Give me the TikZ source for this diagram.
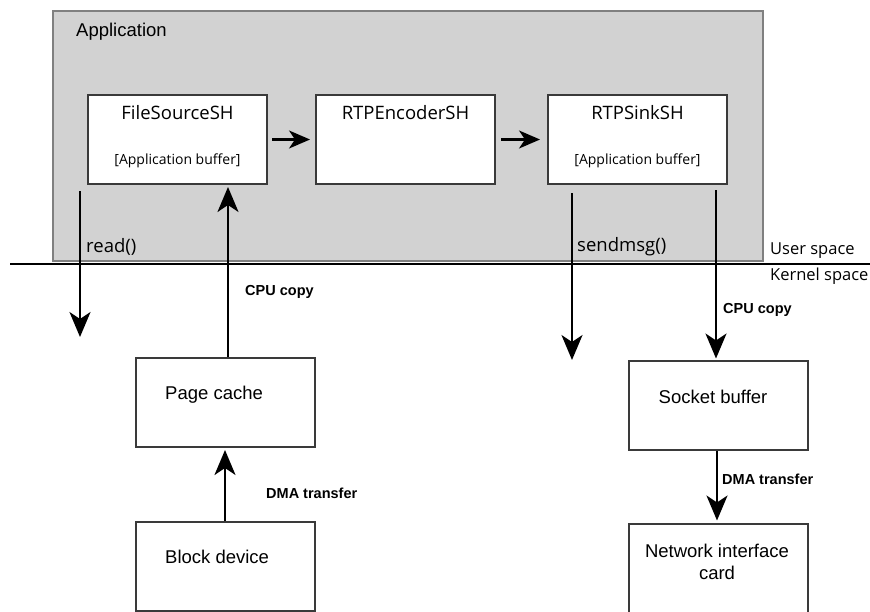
\documentclass[tikz,border=0pt]{standalone}
\usepackage{fontspec}
\setmainfont{Liberation Sans}
\newfontfamily\hfont{Open Sans}
\usetikzlibrary{arrows.meta}
\definecolor{appgray}{HTML}{D2D2D2}
\definecolor{appedge}{HTML}{808080}
\definecolor{boxedge}{HTML}{3A3A3A}
\tikzset{
  appbox/.style={draw=appedge, line width=1.4pt, fill=appgray, rectangle, inner sep=0pt},
  wbox/.style={draw=boxedge, line width=2pt, fill=white, rectangle, inner sep=0pt, minimum width=179pt, minimum height=89pt},
  title/.style={font=\hfont\fontsize{18.5}{20}\selectfont, inner sep=0pt},
  sub/.style={font=\hfont\fontsize{14}{16}\selectfont, inner sep=0pt},
  ktext/.style={font=\fontsize{18.5}{22}\selectfont, inner sep=0pt, anchor=west},
  small/.style={font=\bfseries\fontsize{14.5}{16}\selectfont, inner sep=0pt, anchor=west},
  call/.style={font=\hfont\fontsize{18.5}{20}\selectfont, inner sep=0pt, anchor=west},
  space/.style={font=\hfont\fontsize{16.5}{20}\selectfont, inner sep=0pt, anchor=west},
  bigarrow/.style={line width=2.4pt, -{Stealth[length=25pt, width=21pt, inset=7pt]}},
  midarrow/.style={line width=2.2pt, -{Stealth[length=21pt, width=18pt, inset=6pt]}},
}
\begin{document}
\begin{tikzpicture}[x=1pt, y=-1pt]
\useasboundingbox (0,0) rectangle (870,611);
% application area
\node[appbox, minimum width=710pt, minimum height=250pt] (app) at (408,136) {};
\node[ktext] (applbl) at (76,32) {Application};
% user / kernel boundary
\coordinate (bl) at (10,264);
\coordinate (br) at (870,264);
\draw[line width=2.4pt] (bl) -- (br);
\node[space] (us) at (770,251) {User space};
\node[space] (ks) at (770,276) {Kernel space};
% application boxes
\node[wbox] (fs) at (177.5,139.5) {};
\node[wbox] (enc) at (405.5,139.5) {};
\node[wbox] (sink) at (637.5,139.5) {};
\node[title] (fst) at (177.5,113) {FileSourceSH};
\node[sub] (fsb) at (177.5,161) {[Application buffer]};
\node[title] (enct) at (405.5,113) {RTPEncoderSH};
\node[title] (sinkt) at (637.5,113) {RTPSinkSH};
\node[sub] (sinkb) at (637.5,161) {[Application buffer]};
\draw[midarrow, shorten <=4pt, shorten >=5pt] (fs.east) -- (enc.west);
\draw[midarrow, shorten <=5pt, shorten >=7pt] (enc.east) -- (sink.west);
% kernel boxes
\node[wbox] (pc) at (225.5,402.5) {};
\node[wbox] (bd) at (225.5,566.5) {};
\node[wbox] (sb) at (718,405) {};
\node[wbox] (nic) at (718.5,568) {};
\node[ktext] (pct) at (165,395) {Page cache};
\node[ktext] (bdt) at (165,557) {Block device};
\node[ktext, anchor=center] (sbt) at (713,397) {Socket buffer};
\node[ktext, anchor=center, align=center] (nict) at (717,562) {Network interface\\card};
% read() path
\coordinate (r1) at (80,191);
\coordinate (r2) at (80,337);
\draw[bigarrow] (r1) -- (r2);
\node[call] (readl) at (86,247) {read()};
% CPU copy to FileSourceSH
\coordinate (cx) at (228,0);
\draw[bigarrow, shorten >=2pt] (pc.north -| cx) -- (fs.south -| cx);
\node[small] (cpu1) at (245,292) {CPU copy};
% DMA from block device
\coordinate (dx) at (225,0);
\draw[bigarrow, shorten >=2pt] (bd.north -| dx) -- (pc.south -| dx);
\node[small] (dma1) at (266,493) {DMA transfer};
% sendmsg() path
\coordinate (s1) at (572,193);
\coordinate (s2) at (572,360);
\draw[bigarrow] (s1) -- (s2);
\node[call] (sendl) at (577,247) {sendmsg()};
% CPU copy to socket buffer
\coordinate (sx) at (716,190);
\draw[bigarrow, shorten >=1pt] (sx) -- (sb.north -| sx);
\node[small] (cpu2) at (723,310) {CPU copy};
% DMA to NIC
\coordinate (nx) at (717,0);
\draw[bigarrow, shorten >=2pt] (sb.south -| nx) -- (nic.north -| nx);
\node[small] (dma2) at (722,479) {DMA transfer};
\end{tikzpicture}
\end{document}
